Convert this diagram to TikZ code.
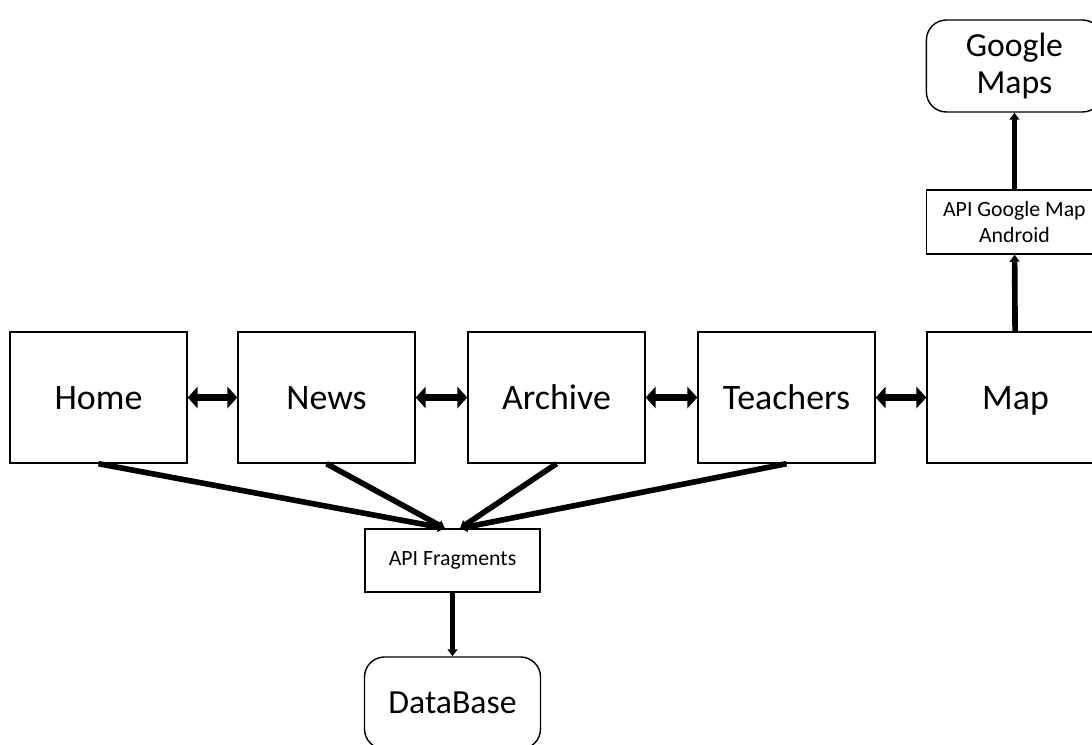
\documentclass[tikz,border=0pt]{standalone}
\usepackage{fontspec}
\setmainfont{Carlito}
\usetikzlibrary{arrows.meta}
\begin{document}
\begin{tikzpicture}[page/.style={draw, line width=1pt, minimum width=4.425cm, minimum height=3.275cm, text height=16.4pt, text depth=0pt, font=\fontsize{25.5}{30}\selectfont}, store/.style={draw, line width=1pt, rounded corners=0.5cm, minimum width=4.4cm, minimum height=2.3cm, align=center, font=\fontsize{24}{27}\selectfont}, api/.style={draw, line width=1pt, minimum width=4.4cm, minimum height=1.6cm, align=center, font=\fontsize{15.5}{19}\selectfont}, link/.style={{Triangle[length=7pt,width=15pt]}-{Triangle[length=7pt,width=15pt]}, line width=5pt}, call/.style={-{Triangle[length=5pt,width=7pt]}, line width=4pt}]
	\clip (0,0) rectangle (27.3,-18.625);
	\node[page] (home) at (2.4625,-9.9375) {Home};
	\node[page] (news) at (8.1625,-9.9375) {News};
	\node[page] (archive) at (13.9125,-9.9375) {Archive};
	\node[page] (teachers) at (19.6625,-9.9375) {Teachers};
	\node[page] (map) at (25.3875,-9.9375) {Map};
	\node[api] (gapi) at (25.36,-5.55) {API Google Map\\Android};
	\node[store] (gmaps) at (25.36,-1.65) {Google\\Maps};
	\node[api, minimum width=4.375cm, minimum height=1.575cm] (frag) at (11.3125,-14.0125) {API Fragments};
	\node[store] (db) at (11.3125,-17.575) {DataBase};
	\coordinate (fl) at ([xshift=-0.19cm]frag.north);
	\coordinate (fr) at ([xshift=0.19cm]frag.north);
	\draw[link] (home) -- (news);
	\draw[link] (news) -- (archive);
	\draw[link] (archive) -- (teachers);
	\draw[link] (teachers) -- (map);
	\draw[call] (home.south) -- (fl);
	\draw[call] (news.south) -- (fl);
	\draw[call] (archive.south) -- (fr);
	\draw[call] (teachers.south) -- (fr);
	\draw[call] (frag) -- (db);
	\draw[call] (map) -- (gapi);
	\draw[call] (gapi) -- (gmaps);
\end{tikzpicture}
\end{document}
